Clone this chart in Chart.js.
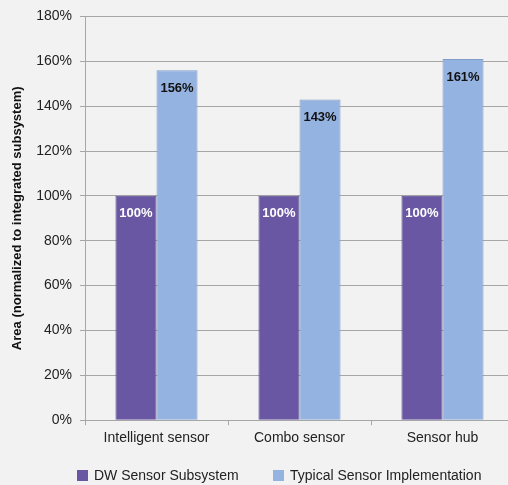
<!DOCTYPE html>
<html>
<head>
<meta charset="utf-8">
<script src="https://cdn.jsdelivr.net/npm/chart.js@4"></script>
<style>
  html, body { margin: 0; padding: 0; background: #f2f2f2; overflow: hidden; }
  #wrap { width: 522px; height: 485px; }
</style>
</head>
<body>
<div id="wrap"><canvas id="chart"></canvas></div>
<script>
const categories = ['Intelligent sensor', 'Combo sensor', 'Sensor hub'];
const dwSubsystem = [100, 100, 100];
const typicalImpl = [156, 143, 161];
const seriesNames = ['DW Sensor Subsystem', 'Typical Sensor Implementation'];
const seriesColors = ['#6a57a3', '#95b3e0'];
const yTitle = 'Area (normalized to integrated subsystem)';

const ctx = document.getElementById('chart').getContext('2d');
const FONT = 'Arial, "Liberation Sans", sans-serif';

// small labels inside the top of each bar
const barLabels = {
    id: 'barLabels',
    afterDatasetsDraw(chart) {
        const c = chart.ctx;
        c.save();
        c.font = 'bold 13px ' + FONT;
        c.textAlign = 'center';
        c.textBaseline = 'middle';
        chart.data.datasets.forEach((ds, i) => {
            chart.getDatasetMeta(i).data.forEach((bar, j) => {
                c.fillStyle = i === 0 ? '#ffffff' : '#111111';
                c.fillText(ds.data[j] + '%', bar.x, bar.y + 18);
            });
        });
        c.restore();
    }
};

// legend drawn by hand so it sits where the original has it
const bottomLegend = {
    id: 'bottomLegend',
    afterDraw(chart) {
        const c = chart.ctx;
        const xs = [77, 273];
        c.save();
        c.font = '14px ' + FONT;
        c.textBaseline = 'middle';
        seriesNames.forEach((name, i) => {
            c.fillStyle = seriesColors[i];
            c.fillRect(xs[i], 470, 11, 11);
            c.fillStyle = '#222';
            c.fillText(name, xs[i] + 17, 476);
        });
        c.restore();
    }
};

const bgFill = {
    id: 'bgFill',
    beforeDraw(chart) {
        const c = chart.ctx;
        c.save();
        c.fillStyle = '#f2f2f2';
        c.fillRect(0, 0, chart.width, chart.height);
        c.restore();
    }
};

var barChart = new Chart(ctx, {
    type: 'bar',
    data: {
        labels: categories,
        datasets: [{
            label: seriesNames[0],
            data: dwSubsystem,
            backgroundColor: seriesColors[0],
            borderColor: '#574690',
            borderWidth: 1,
            categoryPercentage: 0.574,
            barPercentage: 1
        }, {
            label: seriesNames[1],
            data: typicalImpl,
            backgroundColor: seriesColors[1],
            borderColor: '#7f9cc8',
            borderWidth: 1,
            categoryPercentage: 0.574,
            barPercentage: 1
        }]
    },
    options: {
        responsive: true,
        maintainAspectRatio: false,
        animation: false,
        layout: { padding: { top: 11, right: 8, left: 0, bottom: 33 } },
        plugins: {
            tooltip: { enabled: false },
            legend: { display: false }
        },
        scales: {
            x: {
                grid: { display: true, drawOnChartArea: false, offset: true, tickLength: 5, color: '#a6a6a6' },
                border: { color: '#a6a6a6' },
                ticks: { color: '#222', font: { family: FONT, size: 14 }, padding: 5 }
            },
            y: {
                min: 0,
                max: 180,
                grid: { color: '#a6a6a6', tickLength: 5 },
                border: { color: '#a6a6a6' },
                ticks: {
                    stepSize: 20,
                    color: '#222',
                    padding: 8,
                    font: { family: FONT, size: 14 },
                    callback: v => v + '%'
                },
                title: {
                    display: true,
                    text: yTitle,
                    color: '#111',
                    font: { family: FONT, size: 13, weight: 'bold' },
                    padding: { top: 10, bottom: 4 }
                },
                afterFit(scale) { scale.width = 85; }
            }
        }
    },
    plugins: [bgFill, barLabels, bottomLegend]
});
</script>
</body>
</html>
